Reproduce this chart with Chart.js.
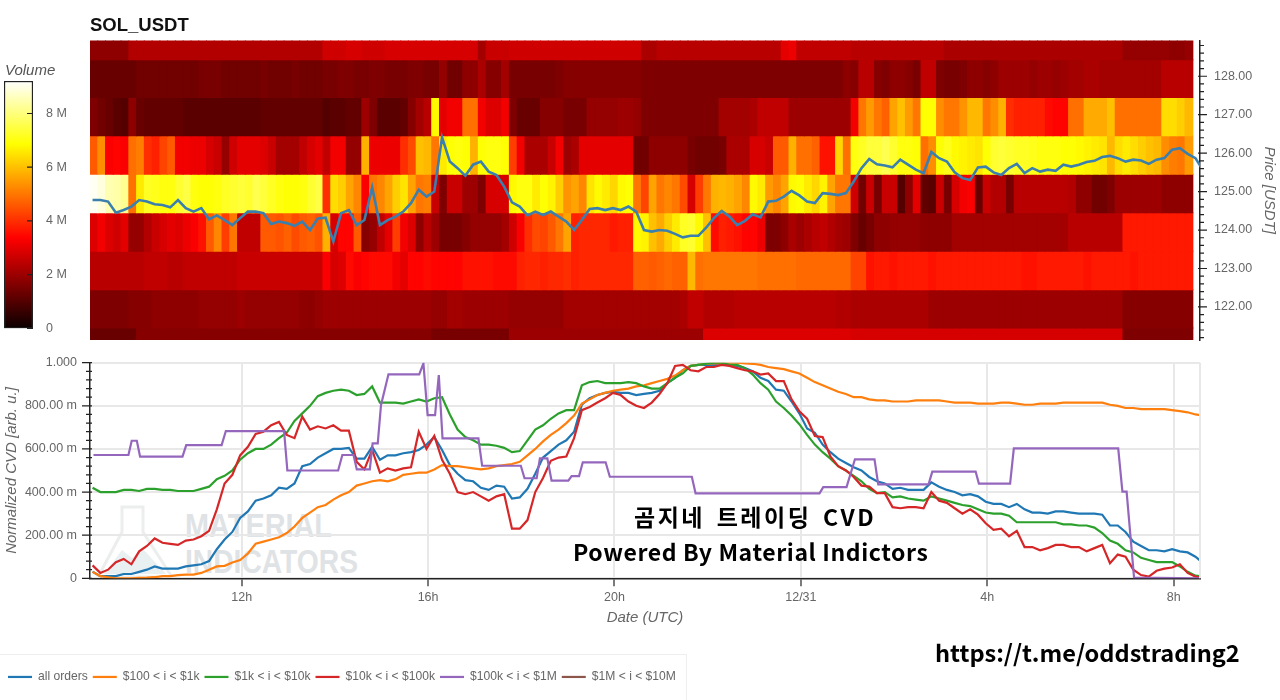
<!DOCTYPE html>
<html>
<head>
<meta charset="utf-8">
<title>SOL_USDT CVD</title>
<script src="https://cdn.jsdelivr.net/npm/chart.js@4/dist/chart.umd.min.js"></script>
<style>
html, body { margin: 0; padding: 0; background: #fff; }
body { width: 1280px; height: 700px; overflow: hidden; position: relative; font-family: "Liberation Sans", sans-serif; }
canvas { position: absolute; left: 0; }
#heatCanvas { top: 30px; }
#barCanvas { top: 78px; }
#cvdCanvas { top: 355px; }
.txt { position: absolute; white-space: nowrap; }
#title { left: 90px; top: 14px; font-size: 18.5px; font-weight: bold; color: #111; }
#volLabel { left: 5px; top: 61px; font-size: 15px; font-style: italic; color: #555; }
.big { font-family: "Noto Sans CJK KR", sans-serif; font-weight: 700; color: #000; }
#big1 { left: 634px; top: 498px; font-size: 23px; line-height: 36px; letter-spacing: 2.5px; word-spacing: 4px; }
#big2 { left: 573px; top: 533px; font-size: 23px; line-height: 36px; letter-spacing: 0.6px; }
#link { left: 935px; top: 634px; font-size: 23.6px; line-height: 36px; }
#legendBox { position: absolute; left: -1px; top: 654px; width: 686px; height: 60px; border: 1px solid #eee; }
#mark { position: absolute; left: 90px; top: 500px; }
</style>
</head>
<body>
<div id="legendBox"></div>
<svg id="mark" width="290" height="80" viewBox="0 0 290 80">
  <path d="M32 7 H53 V32 L82 77 H8 L32 32 Z" fill="#fff" stroke="#eceeee" stroke-width="3"/>
  <path d="M14 74 L32 50 L42 58 L52 48 L76 74 Z" fill="#e8f0f2"/>
  <text x="95" y="37" font-size="33" font-weight="700" fill="#dfe3e5" textLength="147" lengthAdjust="spacingAndGlyphs">MATERIAL</text>
  <text x="95" y="73" font-size="33" font-weight="700" fill="#dfe3e5" textLength="173" lengthAdjust="spacingAndGlyphs">INDICATORS</text>
</svg>
<canvas id="heatCanvas" width="1280" height="320"></canvas>
<canvas id="barCanvas" width="90" height="260"></canvas>
<canvas id="cvdCanvas" width="1280" height="345"></canvas>
<div class="txt" id="title">SOL_USDT</div>
<div class="txt" id="volLabel">Volume</div>
<div class="txt big" id="big1">곰지네 트레이딩 CVD</div>
<div class="txt big" id="big2">Powered By Material Indictors</div>
<div class="txt big" id="link">https://t.me/oddstrading2</div>
<script>
// hours since 00h on 12/30, so 24 is 12/31 00h
const xMin = 8.745;
const xMax = 32.565;
const xTickHours = [12, 16, 20, 24, 28, 32];
const xTickLabels = ['12h', '16h', '20h', '12/31', '4h', '8h'];

const priceTicks = [122, 123, 124, 125, 126, 127, 128];
const priceMin = 121.14;
const priceMax = 128.93;
// edges of the nine price bands, top to bottom
const priceEdges = [128.93, 128.43, 127.45, 126.45, 125.45, 124.45, 123.45, 122.45, 121.45, 121.14];

const volumeTicks = [0, 2, 4, 6, 8];
const volumeMax = 9.21;

const cvdTicks = [0, 0.2, 0.4, 0.6, 0.8, 1];
const cvdTickLabels = ['0', '200.00 m', '400.00 m', '600.00 m', '800.00 m', '1.000'];

// volume per 10 min column, in millions, one array per price band (top to bottom)
const band0 = [
  1.8,1.8,1.8,1.8,1.8,2.3,2.3,2.3,2.3,2.3, 2.3,2.3,2.3,2.3,2.3,2.3,2.3,2.3,2.3,2.3,
  2.3,2.3,2.3,2.3,2.3,2.3,2.3,2.3,2.3,2.3, 2.7,2.7,2.7,2.8,2.8,2.7,2.7,2.7,2.8,2.8,
  2.8,2.8,2.8,2.8,2.8,2.8,2.8,2.8,2.8,2.8, 2.1,2.6,2.6,2.6,2.7,2.7,2.7,2.7,2.7,2.7,
  2.7,2.7,2.7,2.7,2.7,2.7,2.7,2.7,2.7,2.7, 2.7,2.2,2.2,2.4,2.4,2.4,2.4,2.4,2.4,2.4,
  2.4,2.4,2.4,2.4,2.4,2.4,2.4,2.4,2.4,3.0, 3.1,2.5,2.5,2.5,2.5,2.5,2.5,2.5,2.4,2.4,
  2.4,2.4,2.4,2.4,2.4,2.4,2.4,2.4,2.4,2.4, 2.2,2.2,2.2,2.2,2.2,2.2,2.2,2.2,2.2,2.2,
  2.2,2.2,2.2,2.2,2.2,2.2,2.2,2.2,2.2,2.2, 2.2,2.2,2.2,1.9,1.9,1.9,1.9,1.9,1.9,1.8,
  1.8,1.9];
const band1 = [
  1.3,1.3,1.3,1.3,1.3,1.3,1.4,1.4,1.4,1.4, 1.4,1.4,1.4,1.4,1.5,1.5,1.5,1.4,1.4,1.4,
  1.4,1.4,1.5,1.4,1.4,1.4,1.5,1.4,1.4,1.4, 1.5,1.5,1.6,1.6,1.5,1.5,1.6,1.6,1.5,1.5,
  1.5,1.6,1.6,1.5,1.5,1.9,1.4,1.4,1.8,1.8, 2.2,1.7,1.7,2.1,1.5,1.5,1.5,1.5,1.5,1.5,
  1.6,1.7,1.7,1.7,1.7,1.7,1.7,1.7,1.7,1.7, 1.7,1.6,1.6,1.6,1.6,1.6,1.6,1.6,1.6,1.6,
  1.6,1.6,1.6,1.6,1.6,1.6,1.6,1.6,1.6,1.6, 1.6,1.6,1.6,1.6,1.6,1.6,1.6,1.8,1.7,2.4,
  2.4,1.7,1.6,1.8,1.8,1.7,1.5,2.5,2.5,1.6, 1.5,1.5,1.6,1.8,1.8,1.7,1.8,2.0,2.0,2.0,
  2.0,1.9,2.0,2.0,1.9,2.0,2.1,2.1,2.2,2.2, 2.1,2.1,2.1,2.1,2.1,2.1,2.1,2.1,2.4,2.4,
  2.4,2.4];
const band2 = [
  1.6,1.4,1.3,1.1,1.0,1.8,1.3,1.2,1.2,1.2, 1.2,1.2,1.1,1.1,1.1,1.1,1.1,1.1,1.1,1.1,
  1.1,1.1,1.2,1.2,1.2,1.2,1.2,1.2,1.2,1.2, 1.0,1.1,1.1,1.2,1.2,2.0,1.6,1.1,1.1,1.1,
  1.2,1.7,2.1,2.4,6.8,3.0,3.2,3.2,4.9,4.9, 3.2,2.9,2.9,3.2,1.6,1.3,1.3,1.3,1.7,1.7,
  1.7,1.5,1.5,1.5,1.9,1.9,1.9,1.9,2.0,2.0, 1.9,1.6,1.6,1.6,1.6,1.6,1.6,1.6,1.6,1.6,
  1.6,2.1,2.1,2.1,2.1,2.2,2.5,2.5,2.5,2.5, 2.0,2.0,2.0,2.0,2.0,2.0,2.0,2.0,3.2,5.0,
  5.5,5.0,4.7,5.6,6.0,5.5,5.0,6.9,6.9,5.3, 5.0,5.0,5.4,5.9,5.9,5.0,5.3,5.8,4.0,3.8,
  3.8,3.8,3.8,3.5,3.4,3.4,4.9,4.9,5.7,5.7, 5.7,6.0,4.9,4.9,4.9,4.9,4.9,4.9,6.4,6.4,
  6.2,5.9];
const band3 = [
  4.6,5.3,3.3,3.4,3.3,4.9,5.1,4.0,3.8,4.3, 4.6,3.2,3.2,3.1,3.1,2.8,2.6,1.9,2.7,3.0,
  3.0,3.0,2.9,2.6,2.1,2.1,2.1,2.5,2.8,3.0, 2.5,3.2,3.2,1.9,1.9,5.8,3.1,3.1,3.1,3.1,
  4.0,4.4,6.0,5.9,5.0,6.6,6.9,7.0,6.9,5.8, 6.9,7.0,7.0,6.9,4.2,3.2,2.2,2.2,2.2,2.6,
  3.2,2.0,2.2,3.0,3.0,3.0,3.0,3.0,3.0,3.0, 1.4,1.4,1.8,1.8,1.8,1.8,1.8,1.5,1.4,1.4,
  1.4,1.5,2.2,2.2,2.2,2.8,2.8,2.6,4.6,4.6, 5.8,4.9,4.9,4.7,3.6,3.6,6.3,4.9,7.0,7.2,
  7.4,7.4,7.6,7.3,7.0,7.0,6.9,4.9,5.3,6.9, 7.1,6.8,6.7,6.6,6.5,6.9,7.3,7.4,7.3,7.2,
  7.2,7.1,7.0,7.0,7.0,6.9,6.9,6.8,6.7,6.6, 6.5,5.9,6.4,6.6,6.4,6.2,6.0,5.9,5.3,5.1,
  5.0,5.5];
const band4 = [
  9.1,8.9,8.5,8.4,8.2,4.9,6.6,7.2,7.1,7.0, 7.0,7.3,7.5,7.0,6.9,6.9,7.0,7.2,7.3,7.4,
  7.3,7.6,7.4,7.2,7.0,6.9,6.9,7.0,7.3,7.5, 4.0,6.4,6.2,5.6,5.2,3.3,5.0,5.2,5.6,6.2,
  6.5,5.6,5.0,5.1,2.6,1.6,2.6,2.6,2.0,2.0, 1.6,2.8,2.8,2.8,6.8,7.0,7.0,6.6,6.9,6.7,
  6.2,5.4,5.6,5.2,6.5,6.8,6.6,6.3,6.8,6.9, 5.0,4.3,5.6,5.0,5.2,5.0,4.4,2.8,4.2,5.0,
  5.8,5.9,5.8,5.6,5.2,6.8,6.6,5.5,5.2,5.6, 6.8,6.9,6.6,6.3,6.7,5.6,5.0,5.0,2.7,1.4,
  2.6,1.5,2.6,2.6,1.0,1.8,3.0,1.2,1.1,2.6, 1.5,2.8,3.2,3.3,1.3,2.6,2.3,2.3,1.5,2.4,
  2.4,2.4,2.4,2.4,2.4,2.4,2.3,1.8,1.8,1.4, 1.4,1.6,2.0,2.0,2.0,2.0,2.0,2.0,1.8,1.8,
  1.8,1.8];
const band5 = [
  2.9,3.2,2.9,2.7,3.0,1.9,1.9,2.3,2.6,2.8, 3.0,2.9,3.1,3.3,3.6,4.6,5.2,4.2,5.0,2.5,
  2.5,2.5,4.6,4.6,4.5,4.7,4.4,4.6,4.7,4.5, 5.8,2.8,3.4,3.4,4.6,1.7,1.9,2.5,3.0,4.2,
  3.2,2.9,1.8,2.4,2.0,1.5,1.5,1.5,1.7,1.9, 1.9,1.9,1.9,2.1,2.7,3.3,4.0,4.4,4.3,4.6,
  5.0,5.6,3.8,3.9,3.9,3.9,3.9,3.7,3.8,3.8, 6.8,6.7,6.0,5.7,6.2,6.6,7.2,7.3,6.8,6.0,
  3.5,3.8,3.7,3.6,3.4,3.4,3.1,1.6,1.6,1.8, 2.2,2.0,2.2,2.4,2.5,2.3,2.1,2.0,1.6,1.3,
  1.5,1.8,1.8,1.9,1.9,1.9,1.9,1.8,1.8,1.8, 1.8,2.1,2.1,2.1,2.1,2.1,2.1,2.1,2.1,2.1,
  2.1,2.1,2.1,2.1,2.1,2.1,2.4,2.4,2.4,2.4, 2.4,2.4,2.4,3.7,3.7,3.7,3.7,3.7,3.7,3.7,
  3.7,3.7];
const band6 = [
  2.4,2.4,2.4,2.4,2.4,2.4,2.4,2.5,2.5,2.5, 2.4,2.4,2.5,2.5,2.5,2.5,2.5,2.5,2.5,2.6,
  2.6,2.6,2.6,2.6,2.6,2.6,2.6,2.6,2.6,2.6, 3.3,2.8,2.9,3.5,3.3,3.4,3.5,3.5,3.5,3.2,
  3.0,3.4,3.4,3.5,3.4,3.4,3.4,3.4,3.6,3.6, 3.6,3.6,3.5,3.5,3.5,3.8,3.9,3.9,3.8,3.9,
  3.9,4.0,3.8,3.9,3.9,3.9,3.9,3.9,3.9,3.9, 4.7,4.7,4.6,4.7,4.8,4.7,4.7,5.9,4.9,5.0,
  5.0,5.0,5.0,5.0,5.0,5.0,4.9,4.9,4.9,4.9, 4.9,4.8,4.8,4.8,4.8,4.8,4.8,4.8,4.3,4.3,
  3.6,3.7,3.7,3.6,3.7,3.7,3.7,3.7,3.6,3.7, 3.7,3.7,3.7,3.7,3.7,3.7,3.7,3.7,3.7,3.7,
  3.6,3.6,3.7,3.7,3.7,3.7,3.7,3.7,3.6,3.7, 3.7,3.7,3.7,3.7,3.6,3.7,3.7,3.7,3.7,3.7,
  3.7,3.7];
const band7 = [
  1.6,1.6,1.6,1.6,1.6,1.7,1.7,1.7,1.8,1.8, 1.8,1.8,1.8,1.8,1.9,1.9,1.9,1.9,1.9,2.0,
  1.9,1.9,1.9,1.9,1.9,1.9,1.9,1.8,1.8,1.9, 2.0,2.0,2.0,2.0,2.0,2.0,2.0,2.0,2.0,2.0,
  2.0,2.0,2.0,2.0,1.9,1.9,2.1,2.1,2.0,2.0, 2.0,2.0,2.0,2.0,1.9,1.9,1.9,1.9,1.9,1.9,
  1.9,2.1,2.1,2.1,2.1,2.1,2.1,2.1,2.1,2.1, 2.1,2.1,2.1,2.1,2.1,2.1,2.2,2.5,2.5,2.3,
  2.3,2.3,2.3,2.4,2.4,2.4,2.4,2.4,2.4,2.4, 2.4,2.4,2.4,2.4,2.4,2.4,2.3,2.3,2.2,2.2,
  2.2,2.2,2.2,2.2,2.2,2.2,2.2,2.2,2.0,2.0, 2.0,2.0,2.0,2.0,2.0,2.0,2.0,2.0,2.0,2.0,
  2.0,2.0,2.0,2.0,2.0,2.0,2.0,2.0,2.0,2.0, 2.0,2.0,2.0,1.7,1.7,1.7,1.7,1.7,1.7,1.7,
  1.7,1.7];
const band8 = [
  1.3,1.3,1.3,1.3,1.3,1.3,1.7,1.7,1.7,1.7, 1.7,1.7,1.7,1.7,1.7,1.7,1.7,1.7,1.7,1.7,
  1.7,1.7,1.7,1.7,1.7,1.7,1.7,1.7,1.7,1.7, 1.7,1.7,1.7,1.7,1.7,1.7,1.7,1.7,1.7,1.7,
  1.7,1.7,1.7,1.7,1.5,1.5,1.5,1.5,1.5,1.5, 1.5,1.5,1.5,1.5,2.0,2.0,2.0,2.0,2.0,2.0,
  2.0,2.0,2.0,2.0,2.0,2.0,2.0,2.0,2.0,2.0, 2.0,2.0,2.0,2.0,2.0,2.0,2.0,2.0,2.0,2.9,
  2.9,2.9,2.9,2.9,2.9,2.9,2.9,2.9,2.9,2.9, 2.9,2.9,2.9,2.9,2.9,2.9,2.9,2.9,2.8,2.8,
  2.8,2.8,2.8,2.8,2.8,2.8,2.8,2.8,2.8,2.8, 2.8,2.8,2.8,2.8,2.8,2.8,2.8,2.8,2.8,2.8,
  2.8,2.8,2.8,2.8,2.8,2.8,2.8,2.8,2.8,2.8, 2.8,2.8,2.8,1.6,1.6,1.6,1.6,1.6,1.6,1.6,
  1.6,1.6];
const bands = [band0, band1, band2, band3, band4, band5, band6, band7, band8];

// price and CVD series, one value every 10 min from 8.8h
const priceLine = [
  124.78,124.78,124.74,124.45,124.52,124.61,124.78,124.74,124.67,124.65,124.59,124.78,
  124.57,124.48,124.57,124.28,124.38,124.26,124.13,124.31,124.48,124.48,124.44,124.16,
  124.22,124.18,124.11,124.22,124.0,124.3,124.32,123.7,124.44,124.52,124.13,124.26,
  125.11,124.13,124.26,124.35,124.48,124.7,125.05,124.87,125.0,126.41,125.78,125.61,
  125.41,125.7,125.78,125.52,125.43,125.13,124.72,124.61,124.38,124.48,124.39,124.48,
  124.35,124.22,124.0,124.26,124.55,124.57,124.52,124.57,124.52,124.61,124.48,124.0,
  123.96,124.0,123.98,123.9,123.81,123.85,123.85,124.06,124.31,124.5,124.35,124.13,
  124.24,124.41,124.33,124.74,124.76,124.87,125.02,124.9,124.74,124.7,124.96,124.94,
  124.91,124.96,125.26,125.61,125.85,125.71,125.68,125.63,125.83,125.7,125.57,125.48,
  126.03,125.87,125.78,125.5,125.35,125.3,125.63,125.65,125.5,125.43,125.61,125.72,
  125.48,125.61,125.52,125.57,125.54,125.7,125.65,125.7,125.77,125.8,125.9,125.93,
  125.87,125.78,125.83,125.81,125.72,125.83,125.87,126.09,126.13,125.98,125.87,125.55];
const allOrders = [
  .03,.01,.01,.01,.02,.02,.03,.04,.055,.045,.045,.045,.055,.06,.065,.08,.135,.18,.215,.28,.31,.36,
  .37,.385,.42,.415,.44,.52,.53,.56,.58,.60,.60,.605,.555,.555,.61,.55,.57,.57,.58,.585,.595,.62,
  .655,.595,.525,.485,.455,.45,.42,.41,.43,.425,.37,.375,.415,.485,.56,.59,.62,.64,.68,.805,.835,.85,
  .86,.865,.86,.86,.85,.855,.86,.87,.905,.93,.965,.985,.99,.99,.99,.99,.99,.985,.975,.96,.93,.915,
  .875,.87,.82,.765,.695,.675,.62,.585,.555,.535,.515,.50,.47,.45,.44,.415,.42,.41,.41,.41,.445,.425,
  .41,.40,.385,.39,.38,.355,.345,.345,.33,.345,.32,.305,.305,.30,.31,.31,.305,.30,.30,.30,.295,.245,
  .245,.215,.17,.15,.13,.13,.125,.135,.125,.12,.10,.07];
const orders100to1k = [
  .03,.01,.005,0,0,0,.002,.003,.005,.01,.01,.015,.017,.017,.025,.04,.055,.058,.073,.085,.115,.16,
  .17,.18,.19,.21,.24,.28,.305,.33,.34,.365,.385,.40,.43,.44,.45,.455,.45,.46,.48,.485,.49,.49,
  .505,.525,.52,.52,.515,.51,.505,.51,.52,.525,.53,.54,.57,.60,.635,.665,.69,.72,.755,.81,.83,.85,
  .86,.87,.875,.88,.89,.895,.905,.915,.925,.94,.965,.985,.99,.995,.997,.997,1,1,.997,.995,.99,.98,
  .975,.97,.96,.95,.93,.91,.895,.88,.865,.855,.84,.84,.83,.825,.825,.82,.82,.82,.825,.825,.825,.825,
  .82,.815,.815,.815,.81,.81,.81,.815,.815,.81,.805,.805,.81,.81,.81,.815,.815,.815,.815,.815,.815,.805,
  .80,.79,.79,.785,.785,.785,.785,.78,.775,.77,.76,.755];
const orders1kto10k = [
  .42,.40,.40,.40,.41,.41,.405,.415,.415,.41,.41,.405,.405,.405,.415,.425,.46,.475,.50,.55,.58,.60,
  .60,.62,.65,.675,.73,.765,.80,.845,.86,.87,.875,.87,.85,.855,.89,.815,.815,.815,.81,.82,.83,.82,
  .835,.84,.76,.69,.655,.64,.62,.62,.615,.605,.585,.59,.64,.69,.71,.74,.765,.78,.78,.895,.91,.915,
  .905,.905,.905,.91,.905,.89,.88,.88,.905,.93,.95,.985,.99,.995,1,1,.99,.99,.975,.945,.905,.875,
  .82,.79,.755,.715,.665,.62,.585,.555,.52,.50,.475,.45,.415,.395,.40,.375,.38,.37,.365,.36,.38,.37,
  .36,.35,.34,.335,.32,.305,.30,.30,.29,.26,.26,.26,.26,.26,.26,.25,.25,.245,.245,.235,.21,.175,
  .16,.13,.12,.095,.085,.075,.075,.075,.055,.03,.012,.008];
const orders10kto100k = [
  .06,.025,.04,.075,.09,.065,.125,.15,.185,.165,.16,.155,.175,.18,.195,.22,.32,.44,.48,.57,.61,.67,
  .68,.71,.725,.665,.65,.75,.69,.705,.695,.71,.685,.685,.54,.505,.595,.49,.51,.50,.51,.515,.68,.60,
  .66,.55,.485,.40,.39,.40,.38,.36,.38,.39,.23,.23,.27,.40,.465,.545,.56,.565,.65,.78,.795,.815,
  .835,.86,.85,.82,.80,.79,.815,.855,.905,.985,.99,.965,.96,.98,.98,.99,.985,.975,.965,.96,.945,.95,
  .915,.915,.83,.775,.74,.66,.655,.565,.52,.50,.47,.43,.425,.395,.395,.33,.325,.33,.33,.325,.40,.36,
  .35,.325,.30,.32,.295,.255,.225,.23,.195,.22,.145,.145,.13,.14,.155,.155,.145,.145,.125,.14,.155,.07,
  .11,.10,.04,.015,.008,.035,.045,.05,.065,.025,.008,.002];
// the purple series is a staircase, so it keeps its own break points
const orders100kto1mHours = [
  8.82,9.57,9.64,9.75,9.82,10.73,10.81,11.57,11.66,12.91,12.98,14.07,14.16,14.40,14.47,14.75,14.81,14.92,14.99,15.15,
  15.81,15.90,15.99,16.15,16.23,16.31,17.08,17.16,17.99,18.07,18.33,18.40,18.56,18.65,19.01,19.08,19.24,19.32,19.81,19.90,
  21.66,21.74,24.40,24.48,24.98,25.16,25.58,25.66,26.74,26.82,27.75,27.82,28.49,28.57,30.81,30.90,30.99,31.15,32.57];
const orders100kto1m = [
  .572,.572,.638,.638,.564,.564,.618,.618,.683,.683,.50,.50,.572,.572,.505,.505,.626,.626,.804,.946,
  .946,.997,.757,.757,.943,.649,.649,.522,.522,.464,.464,.556,.556,.453,.453,.474,.474,.538,.538,.471,
  .471,.394,.394,.423,.423,.552,.552,.436,.436,.495,.495,.439,.439,.603,.603,.402,.402,.003,0];
const orders1mto10m = [];

const columnMinutes = 10;
const heatHours = band0.map((v, i) => xMin + (i + 0.5) * columnMinutes / 60);
const lineHours = priceLine.map((v, i) => 8.8 + i * columnMinutes / 60);

const axisGrey = '#666';
const axisDark = '#222';
const tickFont = { family: 'Liberation Sans', size: 12.5 };
const titleFont = { family: 'Liberation Sans', size: 15, style: 'italic' };

// black -> red -> yellow -> white, same stops as the volume bar
function hot(v) {
    const t = Math.max(0, Math.min(1, v / volumeMax));
    const r = t < 0.365 ? 11 + 244 * t / 0.365 : 255;
    const g = t < 0.365 ? 0 : t < 0.746 ? 255 * (t - 0.365) / 0.381 : 255;
    const b = t < 0.746 ? 0 : 255 * (t - 0.746) / 0.254;
    return `rgb(${Math.round(r)},${Math.round(g)},${Math.round(b)})`;
}

// scales ask for room around their tick labels, which would shrink the plot
function dropLabelPadding(s) {
    s.paddingTop = 0;
    s.paddingBottom = 0;
    s.paddingLeft = 0;
    s.paddingRight = 0;
}

// bokeh style ticks: long major, short minor, crossing the axis line
const axisTicks = {
    id: 'axisTicks',
    afterDraw(chart, args, opts) {
        const s = chart.scales.y;
        const c = chart.ctx;
        c.save();
        c.strokeStyle = axisDark;
        c.lineWidth = 1.2;
        c.beginPath();
        s.ticks.forEach(t => {
            const y = s.getPixelForValue(t.value);
            c.moveTo(opts.x + opts.major[0], y);
            c.lineTo(opts.x + opts.major[1], y);
        });
        (opts.minor || []).forEach(v => {
            const y = s.getPixelForValue(v);
            c.moveTo(opts.x + opts.minorLen[0], y);
            c.lineTo(opts.x + opts.minorLen[1], y);
        });
        c.stroke();
        if (opts.frameRight) {
            c.strokeStyle = '#e8e8e8';
            c.lineWidth = 2;
            c.beginPath();
            c.moveTo(chart.chartArea.right, chart.chartArea.top);
            c.lineTo(chart.chartArea.right, chart.chartArea.bottom);
            c.stroke();
        }
        c.restore();
    }
};

function priceMinorTicks() {
    const out = [];
    for (let i = 0; i < 39; i++) out.push(121.2 + i * 0.2);
    return out;
}
function cvdMinorTicks() {
    const out = [];
    for (let i = 1; i < 25; i++) out.push(i * 0.04);
    return out;
}

const heatSets = bands.map((band, b) => ({
    type: 'bar',
    label: 'band ' + b,
    data: band.map((v, i) => ({ x: heatHours[i], y: [priceEdges[b + 1], priceEdges[b]] })),
    backgroundColor: band.map(hot),
    borderWidth: 0,
    inflateAmount: 0.5,
    barPercentage: 1,
    categoryPercentage: 1,
    grouped: false,
    order: 2
}));

new Chart(document.getElementById('heatCanvas'), {
    data: {
        datasets: [{
            type: 'line',
            label: 'Price',
            data: priceLine.map((v, i) => ({ x: lineHours[i], y: v })),
            borderColor: '#3a7fae',
            borderWidth: 2.6,
            pointRadius: 0,
            tension: 0,
            order: 1
        }, ...heatSets]
    },
    plugins: [axisTicks],
    options: {
        responsive: false,
        animation: false,
        layout: { autoPadding: false, padding: { left: 90, top: 10.5, bottom: 10 } },
        scales: {
            x: { type: 'linear', min: xMin, max: xMax, offset: false, display: false },
            y: {
                position: 'right',
                min: priceMin,
                max: priceMax,
                afterBuildTicks: s => { s.ticks = priceTicks.map(v => ({ value: v })); },
                afterFit: s => { s.width = 80; dropLabelPadding(s); },
                grid: { display: false, drawTicks: false },
                border: { display: true, color: axisDark, width: 1.5 },
                ticks: { color: axisGrey, font: tickFont, padding: 14, callback: v => v.toFixed(2) },
                title: { display: true, text: 'Price [USDT]', color: axisGrey, font: titleFont, padding: { top: 2, bottom: 0 } }
            }
        },
        plugins: {
            legend: { display: false },
            tooltip: { enabled: false },
            axisTicks: { x: 1200, major: [-2, 7], minor: priceMinorTicks(), minorLen: [0, 4] }
        }
    }
});

new Chart(document.getElementById('barCanvas'), {
    type: 'bar',
    data: {
        labels: ['Volume'],
        datasets: [{
            data: [[0, volumeMax]],
            backgroundColor: ctx => {
                const area = ctx.chart.chartArea;
                if (!area) return '#000';
                const g = ctx.chart.ctx.createLinearGradient(0, area.bottom, 0, area.top);
                g.addColorStop(0, '#0b0000');
                g.addColorStop(0.365, '#ff0000');
                g.addColorStop(0.746, '#ffff00');
                g.addColorStop(1, '#ffffff');
                return g;
            },
            borderColor: axisDark,
            borderWidth: 1.5,
            borderSkipped: false,
            barPercentage: 1,
            categoryPercentage: 1
        }]
    },
    plugins: [axisTicks],
    options: {
        responsive: false,
        animation: false,
        layout: { autoPadding: false, padding: { left: 4, top: 3, bottom: 9.7 } },
        scales: {
            x: { display: false },
            y: {
                position: 'right',
                min: 0,
                max: volumeMax,
                afterBuildTicks: s => { s.ticks = volumeTicks.map(v => ({ value: v })); },
                afterFit: s => { s.width = 57; dropLabelPadding(s); },
                grid: { display: false, drawTicks: false },
                border: { display: false },
                ticks: { color: axisGrey, font: tickFont, padding: 13, callback: v => v === 0 ? '0' : v + ' M' }
            }
        },
        plugins: {
            legend: { display: false },
            tooltip: { enabled: false },
            axisTicks: { x: 33, major: [-6, 0] }
        }
    }
});

const cvdColors = ['#1f77b4', '#ff7f0e', '#2ca02c', '#d62728', '#9467bd', '#8c564b'];
const cvdNames = ['all orders', '$100 < i < $1k', '$1k < i < $10k', '$10k < i < $100k', '$100k < i < $1M', '$1M < i < $10M'];
const cvdValues = [allOrders, orders100to1k, orders1kto10k, orders10kto100k, orders100kto1m, orders1mto10m];

new Chart(document.getElementById('cvdCanvas'), {
    type: 'line',
    data: {
        datasets: cvdValues.map((vals, i) => ({
            label: cvdNames[i],
            data: vals.map((v, j) => ({ x: vals === orders100kto1m ? orders100kto1mHours[j] : lineHours[j], y: v })),
            borderColor: cvdColors[i],
            backgroundColor: cvdColors[i],
            borderWidth: 2.2,
            pointRadius: 0,
            tension: 0,
            // later series sit on top, as in the original
            order: cvdValues.length - i
        }))
    },
    plugins: [axisTicks],
    options: {
        responsive: false,
        animation: false,
        layout: { autoPadding: false, padding: { left: 3, right: 80, top: 7.7, bottom: 7 } },
        scales: {
            x: {
                type: 'linear',
                min: xMin,
                max: xMax,
                afterBuildTicks: s => { s.ticks = xTickHours.map(v => ({ value: v })); },
                afterFit: s => { s.height = 87.6; dropLabelPadding(s); },
                grid: { color: '#e8e8e8', lineWidth: 2, tickColor: axisDark, tickLength: 8, tickWidth: 1.2 },
                border: { color: axisDark, width: 1.5 },
                ticks: {
                    color: axisGrey, font: tickFont, padding: 4, maxRotation: 0, autoSkip: false,
                    callback: v => xTickLabels[xTickHours.indexOf(v)]
                },
                // the axis box is tall to keep the legend down, bottom padding lifts the title back up
                title: { display: true, text: 'Date (UTC)', color: axisGrey, font: titleFont, padding: { top: 6, bottom: 38.6 } }
            },
            y: {
                min: 0,
                max: 1,
                afterBuildTicks: s => { s.ticks = cvdTicks.map(v => ({ value: v })); },
                afterFit: s => { s.width = 87; dropLabelPadding(s); },
                grid: { color: '#e8e8e8', lineWidth: 2, drawTicks: false },
                border: { color: axisDark, width: 1.5 },
                ticks: {
                    color: axisGrey, font: tickFont, padding: 13,
                    callback: v => cvdTickLabels[cvdTicks.indexOf(v)]
                },
                title: { display: true, text: 'Normalized CVD [arb. u.]', color: axisGrey, font: titleFont, padding: { top: 0, bottom: 2 } }
            }
        },
        plugins: {
            tooltip: { enabled: false },
            legend: {
                position: 'bottom',
                align: 'start',
                labels: {
                    usePointStyle: true,
                    pointStyle: 'line',
                    pointStyleWidth: 24,
                    boxHeight: 12,
                    padding: 5,
                    color: axisGrey,
                    font: { family: 'Liberation Sans', size: 12.1 },
                    sort: (a, b) => a.datasetIndex - b.datasetIndex
                }
            },
            axisTicks: { x: 90, major: [-8, 2], minor: cvdMinorTicks(), minorLen: [-4, 2], frameRight: true }
        }
    }
});
</script>
</body>
</html>
